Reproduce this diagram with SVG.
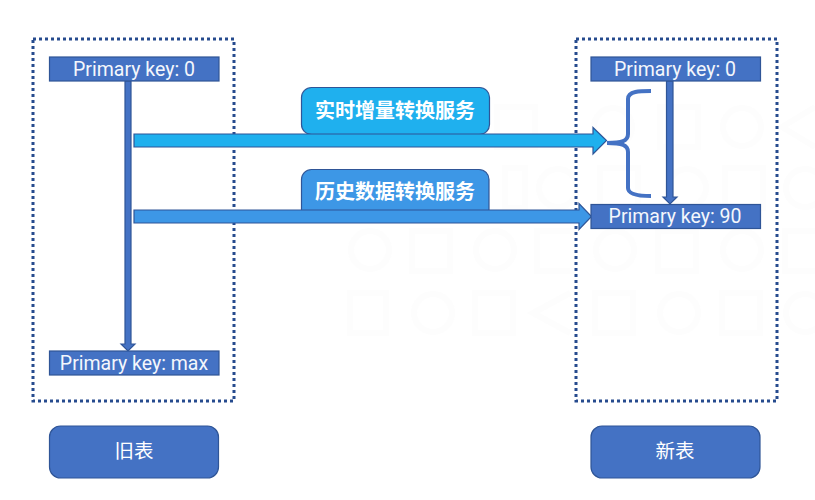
<svg xmlns="http://www.w3.org/2000/svg" width="815" height="500" viewBox="0 0 815 500">
<defs>
<style>
.wm{fill:none;stroke:#fdfdfd;stroke-width:6}
.region{fill:none;stroke:#264b8e;stroke-width:3;stroke-dasharray:3 3}
.pk{fill:#4472c4;stroke:#2f5597;stroke-width:1.2}
.pkt{font-family:Roboto,"Liberation Sans",sans-serif;font-size:19.500px;font-weight:400;fill:#f4f7fc;text-anchor:middle}
.arrow{stroke:#2f5597;stroke-width:1.2}
.a1{fill:#1fb0ee}
.a2{fill:#3d97e6}
.v{fill:#4472c4}
.svc{font-family:"Noto Sans CJK SC",sans-serif;font-size:20px;font-weight:700;fill:#fff;text-anchor:middle}
.tb{font-family:"Noto Sans CJK SC",sans-serif;font-size:19.500px;font-weight:400;fill:#fff;text-anchor:middle}
</style>
</defs>
<rect width="815" height="500" fill="#fff"/>
<g id="watermark" class="wm">
<circle cx="613" cy="127" r="19"/><rect x="660" y="107" width="38" height="40"/><circle cx="742" cy="127" r="19"/><path d="M815 107L782 127L815 147"/>
<rect x="497" y="107" width="38" height="40"/>
<circle cx="558" cy="188" r="19"/><rect x="600" y="168" width="38" height="40"/><circle cx="687" cy="188" r="19"/><rect x="725" y="168" width="38" height="40"/><circle cx="805" cy="188" r="19"/><rect x="505" y="168" width="20" height="40"/>
<circle cx="370" cy="250" r="19"/><rect x="412" y="231" width="38" height="40"/><circle cx="495" cy="250" r="19"/><rect x="537" y="231" width="36" height="40"/><circle cx="615" cy="250" r="19"/><rect x="658" y="231" width="38" height="40"/><circle cx="742" cy="250" r="19"/><rect x="785" y="231" width="38" height="40"/>
<rect x="350" y="293" width="36" height="40"/><circle cx="433" cy="313" r="19"/><rect x="475" y="293" width="38" height="40"/><path d="M570 293L533 313L570 333"/><rect x="595" y="293" width="38" height="40"/><circle cx="679" cy="313" r="19"/><rect x="722" y="293" width="38" height="40"/><circle cx="805" cy="313" r="19"/>
</g>
<g id="old-region"><rect class="region" x="33" y="39" width="201" height="362"/></g>
<g id="new-region"><rect class="region" x="576" y="39" width="201" height="362"/></g>
<g id="connectors">
<path class="arrow v" d="M125 81H131V344H135L128 351L121 344H125Z"/>
<path class="arrow v" d="M666.500 81H673V197H677L670 204L663 197H666.500Z"/>
<path d="M651 91C640 91 628 91 628 99V134C628 141 622 143 607 143C622 143 628 145 628 152V188C628 195 640 196 651 196" fill="none" stroke="#4472c4" stroke-width="4"/>
</g>
<g id="realtime-service"><rect x="301.500" y="87.500" width="188" height="47" rx="10" fill="#1fb0ee" stroke="#2f5597" stroke-width="1.200"/><text class="svc" x="395" y="118">实时增量转换服务</text></g>
<g id="history-service"><path d="M301.500 212V179.500a10 10 0 0 1 10-10H479a10 10 0 0 1 10 10V212" fill="#3d97e6" stroke="#2f5597" stroke-width="1.200"/><text class="svc" x="395" y="199">历史数据转换服务</text></g>
<g id="arrow-realtime"><path class="arrow a1" d="M134 134H593V127.500L606.500 140.500L593 154V147H134Z"/></g>
<g id="arrow-history"><path class="arrow a2" d="M134 210H579V203.500L591.500 216.500L579 229.500V223H134Z"/></g>
<g id="old-pk-0"><rect class="pk" x="49.500" y="57" width="169.500" height="24"/><text class="pkt" x="134" y="75.500">Primary key: 0</text></g>
<g id="old-pk-max"><rect class="pk" x="49.500" y="351" width="169.500" height="24"/><text class="pkt" x="134" y="369.500">Primary key: max</text></g>
<g id="new-pk-0"><rect class="pk" x="591" y="57" width="169.500" height="24"/><text class="pkt" x="675" y="75.500">Primary key: 0</text></g>
<g id="new-pk-90"><rect class="pk" x="591" y="204.500" width="169.500" height="24"/><text class="pkt" x="675" y="223">Primary key: 90</text></g>
<g id="old-table"><rect x="49.500" y="426" width="169" height="52" rx="11" fill="#4472c4" stroke="#2f5597" stroke-width="1.200"/><text class="tb" x="134" y="458">旧表</text></g>
<g id="new-table"><rect x="591" y="426" width="169" height="52" rx="11" fill="#4472c4" stroke="#2f5597" stroke-width="1.200"/><text class="tb" x="675" y="458">新表</text></g>
</svg>
